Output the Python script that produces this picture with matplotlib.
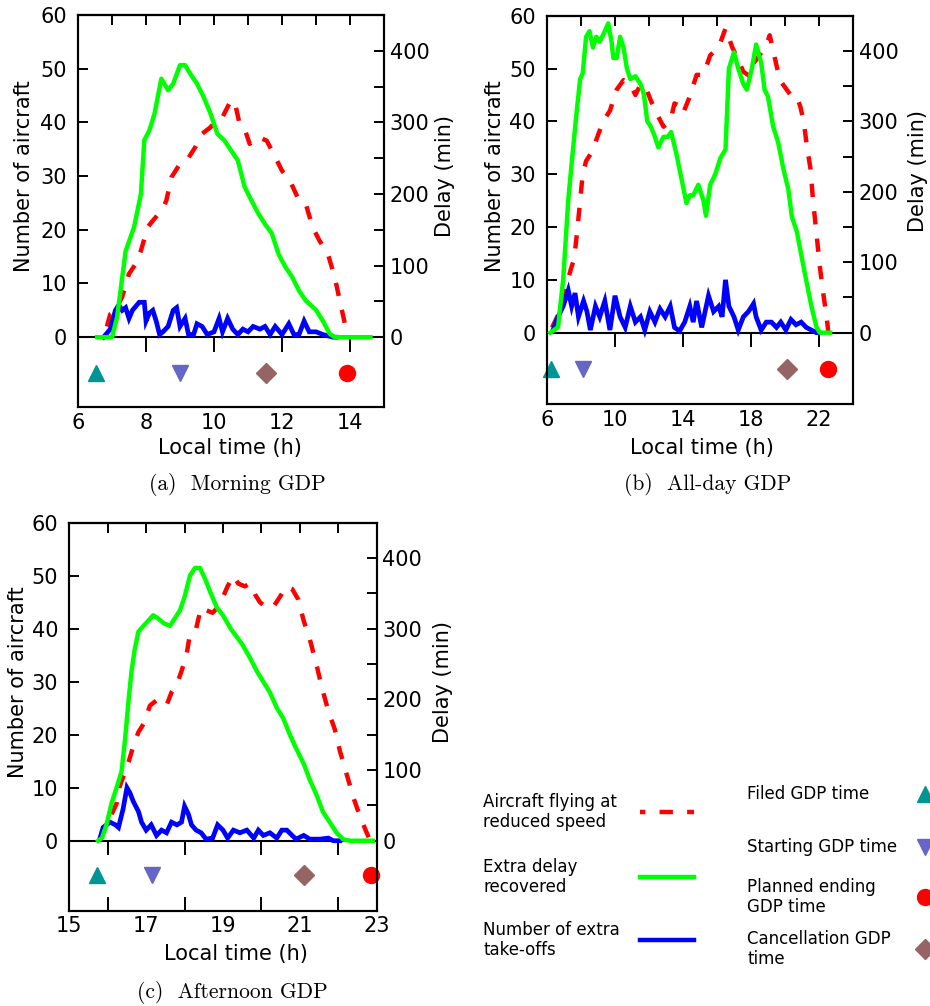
import matplotlib
matplotlib.use('Agg')
import matplotlib.pyplot as plt
from matplotlib.lines import Line2D

plt.rcParams['font.family'] = ['DejaVu Sans']

# ---------------- data ----------------
# (a) Morning GDP
a_red_t = [6.85, 6.95, 7.1, 7.3, 7.5, 7.7, 7.85, 8.05, 8.2, 8.5, 8.6, 8.75, 9.0, 9.2, 9.45, 9.65, 9.9, 10.05,
           10.25, 10.45, 10.6, 10.75, 10.9, 11.05, 11.3, 11.55, 11.75, 12.0, 12.25, 12.5, 12.7, 12.9, 13.1,
           13.35, 13.55, 13.7, 13.85, 13.95]
a_red_n = [2, 4.3, 5, 7.5, 11.8, 13.7, 16.1, 20.5, 21.7, 23.9, 25.5, 29.8, 32.3, 32.9, 35.4, 37.9, 39.1, 40.4,
           41, 43.5, 44.1, 39.8, 38.8, 36, 37.3, 36.6, 34.2, 31, 28.9, 25.5, 24.8, 20.5, 18, 15.5, 11.2, 6.8, 2.5, 0]
a_blue_t = [6.75, 6.95, 7.1, 7.2, 7.3, 7.4, 7.5, 7.6, 7.8, 7.95, 8.0, 8.1, 8.2, 8.3, 8.4, 8.5, 8.65, 8.8, 8.9,
            9.0, 9.15, 9.25, 9.4, 9.5, 9.65, 9.8, 10.0, 10.15, 10.25, 10.4, 10.55, 10.7, 10.85, 11.0, 11.15,
            11.35, 11.5, 11.65, 11.8, 12.0, 12.2, 12.35, 12.5, 12.65, 12.8, 13.0, 13.2, 13.5, 13.6]
a_blue_n = [0, 1.5, 5, 6, 5, 5.5, 3.5, 5, 6.5, 6.5, 3, 4.5, 5, 3, 0.5, 1, 2, 5, 5.5, 2, 3.5, 0.5, 0.5, 2.5, 2,
            0.5, 1, 3.5, 1, 3.5, 1.5, 0.5, 1.5, 1, 2, 1.5, 2, 0.5, 2, 0.5, 2.5, 0.5, 0.5, 3, 1, 1, 0.5, 0, 0]
a_green_t = [6.56, 7.0, 7.15, 7.4, 7.65, 7.85, 7.95, 8.1, 8.25, 8.45, 8.65, 8.8, 9.0, 9.15, 9.3, 9.5, 9.7, 9.9,
             10.1, 10.3, 10.5, 10.7, 10.9, 11.1, 11.3, 11.5, 11.7, 11.9, 12.1, 12.3, 12.5, 12.7, 13.0, 13.2,
             13.4, 13.55, 14.6]
a_green_min = [0, 0, 28, 120, 154, 200, 275, 289, 312, 361, 345, 354, 380, 380, 368, 354, 335, 312, 284, 275,
               261, 247, 210, 191, 173, 158, 145, 116, 98, 84, 65, 51, 38, 23, 5, 0, 0]
a_events = {'filed': 6.52, 'start': 9.0, 'cancel': 11.53, 'end': 13.92}

# (b) All-day GDP
b_red_t = [6.3, 6.75, 7.15, 7.4, 7.6, 7.8, 8.1, 8.3, 8.6, 8.9, 9.3, 9.7, 10.1, 10.5, 10.9, 11.2, 11.5, 11.8,
           12.1, 12.45, 12.85, 13.25, 13.5, 13.75, 14.0, 14.4, 14.8, 15.2, 15.6, 16.1, 16.5, 16.9, 17.2, 17.55,
           17.95, 18.15, 18.5, 18.9, 19.1, 19.4, 19.7, 20.1, 20.4, 20.7, 20.9, 21.1, 21.3, 21.5, 21.65, 21.85,
           22.05, 22.25, 22.45, 22.55]
b_red_n = [1, 4, 9, 12, 14, 20, 30, 32.5, 34, 36.5, 40, 42, 46, 47.8, 47, 45, 47, 46.5, 44, 41.5, 39, 40, 43.4,
           43, 41.5, 44.7, 48.8, 48.8, 52.5, 54, 57.6, 54, 52, 49.4, 48.5, 51, 52.5, 54.4, 56.3, 52, 47.8, 46,
           44.7, 44.7, 42.8, 40, 35, 31, 25, 18.8, 12.5, 7.4, 3, 0]
b_blue_t = [6.35, 6.65, 6.95, 7.25, 7.45, 7.65, 7.85, 8.15, 8.35, 8.55, 8.85, 9.1, 9.4, 9.7, 10.0, 10.3, 10.6,
            10.9, 11.2, 11.5, 11.75, 12.05, 12.35, 12.65, 12.95, 13.25, 13.5, 13.8, 14.1, 14.4, 14.6, 14.8,
            15.1, 15.5, 15.8, 16.1, 16.3, 16.5, 16.7, 17.0, 17.25, 17.55, 17.85, 18.15, 18.3, 18.6, 18.9,
            19.2, 19.5, 19.75, 20.05, 20.35, 20.65, 20.95, 21.25, 21.55, 21.85, 22.0]
b_blue_n = [0.5, 3, 5, 8, 5, 7.5, 3, 6, 4, 0.5, 5, 3, 6, 0.5, 7, 3, 1, 5, 2, 3, 0.5, 4, 2, 4.5, 3, 5, 1, 0.3, 2,
            5, 2, 6, 1, 7, 4, 5, 3, 10, 5, 3, 0.5, 3, 4, 5.5, 3, 0.5, 2, 2, 1, 2, 0.5, 2.5, 1.5, 2, 1, 0.5, 0, 0]
b_green_t = [6.2, 6.65, 6.95, 7.25, 7.45, 7.75, 7.95, 8.1, 8.3, 8.5, 8.7, 8.9, 9.1, 9.4, 9.6, 9.8, 9.9, 10.1,
             10.3, 10.5, 10.7, 10.9, 11.2, 11.5, 11.7, 11.9, 12.1, 12.3, 12.55, 12.85, 13.1, 13.3, 13.6, 14.0,
             14.2, 14.4, 14.6, 14.9, 15.2, 15.35, 15.6, 15.9, 16.2, 16.5, 16.7, 17.0, 17.25, 17.55, 17.75,
             18.05, 18.3, 18.6, 18.8, 19.0, 19.3, 19.6, 19.9, 20.2, 20.4, 20.7, 21.0, 21.3, 21.55, 21.85,
             22.05, 22.65]
b_green_min = [0, 8, 75, 188, 240, 315, 360, 368, 420, 428, 405, 420, 413, 428, 439, 413, 390, 390, 420, 405,
               375, 360, 364, 353, 338, 300, 293, 281, 263, 278, 278, 285, 255, 208, 184, 195, 195, 210, 188,
               166, 210, 225, 248, 260, 375, 398, 375, 353, 345, 375, 409, 383, 345, 335, 293, 270, 233, 203,
               165, 143, 105, 68, 38, 8, 0, 0]
b_events = {'filed': 6.24, 'start': 8.1, 'cancel': 20.1, 'end': 22.5}

# (c) Afternoon GDP
c_red_t = [16.1, 16.23, 16.3, 16.45, 16.55, 16.67, 16.8, 16.93, 17.1, 17.27, 17.45, 17.53, 17.66, 17.8, 17.92,
           18.05, 18.14, 18.3, 18.43, 18.56, 18.73, 18.86, 19.0, 19.12, 19.27, 19.4, 19.57, 19.7, 19.83, 19.96,
           20.13, 20.3, 20.48, 20.65, 20.8, 20.96, 21.1, 21.26, 21.44, 21.57, 21.74, 21.91, 22.04, 22.22, 22.4,
           22.57, 22.74, 22.83]
c_red_n = [5, 7, 10, 13, 15, 18, 20.5, 22, 25.5, 26.5, 26, 25.5, 28, 29.5, 32, 35, 39, 40, 44, 43.5, 43, 44, 46,
           48, 50, 48.5, 48, 48.5, 46.5, 45, 44, 44, 46, 48, 47.5, 45.5, 41.5, 38, 33, 29, 24.5, 21, 17, 12.5,
           8, 4.5, 1.5, 0]
c_blue_t = [15.8, 15.88, 16.06, 16.2, 16.28, 16.4, 16.5, 16.58, 16.66, 16.8, 16.88, 17.0, 17.13, 17.27, 17.4,
            17.53, 17.66, 17.8, 17.92, 18.0, 18.1, 18.18, 18.3, 18.43, 18.56, 18.73, 18.86, 19.0, 19.12, 19.27,
            19.44, 19.62, 19.8, 19.92, 20.05, 20.22, 20.4, 20.53, 20.66, 20.8, 20.9, 21.1, 21.26, 21.52, 21.74,
            21.87, 22.04]
c_blue_n = [0.5, 2.5, 3.5, 3, 2.5, 6, 10, 9, 7.5, 5.5, 3.5, 2, 3, 1, 2, 1.5, 3.5, 3, 3.5, 6.5, 5, 3, 2, 1.5,
            0.3, 0.5, 3, 2, 0.5, 2, 1.5, 2, 0.5, 2, 1, 1.5, 0.5, 2, 2, 1, 0.3, 1, 0.3, 0.3, 0.5, 0, 0]
c_green_t = [15.75, 15.85, 15.97, 16.1, 16.23, 16.36, 16.45, 16.55, 16.62, 16.7, 16.8, 16.93, 17.05, 17.18,
             17.3, 17.45, 17.62, 17.75, 17.88, 18.0, 18.14, 18.27, 18.4, 18.53, 18.66, 18.84, 19.0, 19.2,
             19.35, 19.5, 19.7, 19.88, 20.05, 20.22, 20.4, 20.57, 20.74, 20.9, 21.1, 21.26, 21.44, 21.6,
             21.78, 21.96, 22.13, 22.3, 22.9]
c_green_min = [0, 4, 23, 53, 75, 98, 143, 203, 240, 270, 296, 304, 311, 319, 315, 308, 304, 315, 326, 345, 375,
               386, 386, 371, 353, 330, 319, 300, 289, 278, 259, 240, 225, 210, 188, 173, 150, 131, 109, 86, 64,
               41, 26, 11, 2, 0, 0]
c_events = {'filed': 15.73, 'start': 17.15, 'cancel': 21.1, 'end': 22.86}

# legend texts
series_labels = ['Aircraft flying at\nreduced speed', 'Extra delay\nrecovered', 'Number of extra\ntake-offs']
event_labels = ['Filed GDP time', 'Starting GDP time', 'Planned ending\nGDP time', 'Cancellation GDP\ntime']

# ---------------- style ----------------
RED = '#ff0000'
GREEN = '#00ff00'
BLUE = '#0000ff'
C_FILED = '#009494'
C_START = '#6666c8'
C_END = '#ff0000'
C_CANCEL = '#966464'
LW = 3.2
DASH = (0, (3, 3.2))
FS = 15
W, H = 930, 1006

fig = plt.figure(figsize=(W / 100, H / 100), dpi=100)


def fx(px):
    return px / W


def fy(py):
    return 1 - py / H


def panel(box, xlim, ylo, lab_ticks, tick_pos, top_ticks,
          red_t, red_n, blue_t, blue_n, green_t, green_min, events, ev_y,
          ylab, rlab, xlab, cap, caption):
    l, t, r, b = box
    ax = fig.add_axes([fx(l), fy(b), (r - l) / W, (b - t) / H])
    ax.set_xlim(*xlim)
    ax.set_ylim(ylo, 60)
    ax.axhline(0, color='k', lw=1.5, zorder=1)
    ax.vlines(tick_pos, -2.7, 0, color='k', lw=1.4, zorder=1)
    ax.plot(red_t, red_n, color=RED, lw=LW, ls=DASH, zorder=2)
    ax.plot(blue_t, blue_n, color=BLUE, lw=3.4, zorder=3, solid_joinstyle='miter')
    ax.plot([events['filed']], [ev_y], marker='^', ms=12, color=C_FILED, ls='none', clip_on=False)
    ax.plot([events['start']], [ev_y], marker='v', ms=12, color=C_START, ls='none', clip_on=False)
    ax.plot([events['cancel']], [ev_y], marker='D', ms=10, color=C_CANCEL, ls='none', clip_on=False)
    ax.plot([events['end']], [ev_y], marker='o', ms=11.5, color=C_END, ls='none', clip_on=False)

    ax.set_yticks(range(0, 61, 10))
    ax.tick_params(axis='y', direction='in', length=7, width=1.4, labelsize=FS, pad=8)
    ax.set_xticks(lab_ticks)
    ax.set_xticks(tick_pos, minor=True)
    ax.tick_params(axis='x', which='major', length=0, pad=4, labelsize=FS)
    ax.tick_params(axis='x', which='minor', direction='in', length=10, width=1.4)
    for s in ax.spines.values():
        s.set_linewidth(1.5)

    sec = ax.secondary_xaxis('top')
    sec.set_xticks(top_ticks)
    sec.tick_params(direction='in', length=7, width=1.4, labeltop=False)
    sec.spines['top'].set_linewidth(1.5)

    ax2 = ax.twinx()
    ax2.set_ylim(ylo * 7.5, 450)
    ax2.plot(green_t, green_min, color=GREEN, lw=LW, zorder=4)
    ax2.set_yticks([0, 100, 200, 300, 400])
    ax2.set_yticks([50, 150, 250, 350], minor=True)
    ax2.tick_params(axis='y', which='both', direction='in', length=7, width=1.4, labelsize=FS, pad=4)
    for s in ax2.spines.values():
        s.set_linewidth(1.5)

    fig.text(fx(ylab[0]), fy(ylab[1]), 'Number of aircraft', rotation=90, ha='center', va='center', fontsize=FS)
    fig.text(fx(rlab[0]), fy(rlab[1]), 'Delay (min)', rotation=90, ha='center', va='center', fontsize=FS)
    fig.text(fx(xlab[0]), fy(xlab[1]), 'Local time (h)', ha='center', va='center', fontsize=FS)
    fig.text(fx(cap[0]), fy(cap[1]), caption, ha='center', va='center', fontsize=15.5, family='cmr10')
    return ax


panel((78, 15, 384, 407), (6, 15), -13, [6, 8, 10, 12, 14], [8, 10, 12, 14], list(range(7, 15)),
      a_red_t, a_red_n, a_blue_t, a_blue_n, a_green_t, a_green_min, a_events, -6.6,
      (24, 176), (445, 176), (230, 448), (237, 485), '(a)  Morning GDP')
panel((547, 15.7, 853, 404), (6, 24), -13.5, [6, 10, 14, 18, 22], [10, 14, 18, 22], list(range(8, 24, 2)),
      b_red_t, b_red_n, b_blue_t, b_blue_n, b_green_t, b_green_min, b_events, -6.9,
      (495, 176), (918, 171), (702, 448), (708, 485), '(b)  All-day GDP')
panel((69.3, 522.7, 376.7, 910.7), (15, 23), -13.2, [15, 17, 19, 21, 23], [16, 18, 20, 22], list(range(16, 23)),
      c_red_t, c_red_n, c_blue_t, c_blue_n, c_green_t, c_green_min, c_events, -6.5,
      (18, 682), (443, 682), (236, 954), (232, 992), '(c)  Afternoon GDP')

# ---------------- legend ----------------
LFS = 12
ser_y = [812, 877, 940]
ser_style = [dict(color=RED, lw=LW, ls=(1.8, (3, 3.2))), dict(color=GREEN, lw=LW), dict(color=BLUE, lw=LW)]
for lab, y, st in zip(series_labels, ser_y, ser_style):
    fig.text(fx(483), fy(y), lab, ha='left', va='center', fontsize=LFS, linespacing=1.2)
    fig.add_artist(Line2D([fx(640), fx(694)], [fy(y), fy(y)], transform=fig.transFigure, **st))

ev_y = [794, 847, 897, 949]
ev_mk = [dict(marker='^', ms=12, color=C_FILED), dict(marker='v', ms=12, color=C_START),
         dict(marker='o', ms=11.5, color=C_END), dict(marker='D', ms=10, color=C_CANCEL)]
for lab, y, mk in zip(event_labels, ev_y, ev_mk):
    fig.text(fx(747), fy(y), lab, ha='left', va='center', fontsize=LFS, linespacing=1.2)
    fig.add_artist(Line2D([fx(925)], [fy(y)], transform=fig.transFigure, ls='none', **mk))

fig.savefig('out.png', dpi=100)
